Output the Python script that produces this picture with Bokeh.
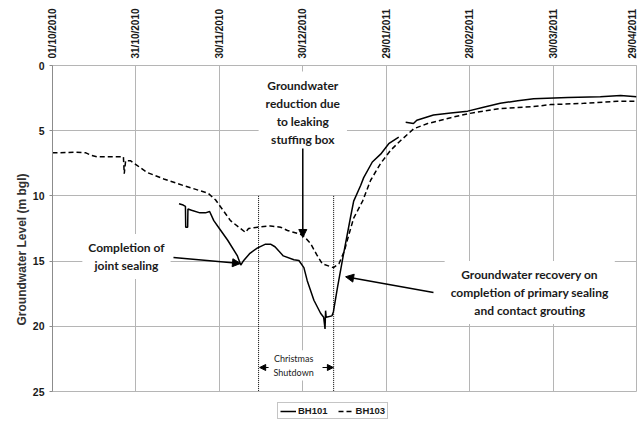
import numpy as np
from math import pi
from bokeh.plotting import figure
from bokeh.layouts import column
from bokeh.models import (Range1d, FixedTicker, DatetimeTickFormatter, Label, Arrow, Title,
                          NormalHead, Legend, LegendItem, ColumnDataSource)
from bokeh.embed import file_html
from bokeh.resources import INLINE
import pandas as pd

# ---------------- data ----------------
START = "2010-10-01"
TICK_DAYS = [0, 30, 60, 90, 120, 150, 180, 210]      # 01/10/2010 ... 29/04/2011
Y_TICKS = [0, 5, 10, 15, 20, 25]
SERIES = ["BH101", "BH103"]

# days after 01/10/2010 and groundwater level (m bgl)
bh101_day = [45.5, 47.0, 47.8, 47.9, 48.6, 48.7, 50.0, 53.0, 55.0, 56.5, 58.0, 60.0, 63.0,
             66.5, 67.7, 68.6, 71.0, 73.6, 76.6, 78.4, 80.0, 83.0, 86.8, 88.6, 90.4,
             91.6, 94.0, 96.4, 97.5, 98.0, 98.2, 98.4, 100.5, 101.0, 102.5, 104.7,
             107.2, 108.3, 110.8, 111.9, 115.0, 118.0, 120.9, 124.5,
             125.5,
             127.0, 129.8, 131.0, 137.0, 143.2, 149.3, 155.0, 161.0, 167.3, 170.9,
             173.0, 185.3, 197.0, 204.3, 210.0]
bh101_gwl = [10.6, 10.7, 10.8, 12.4, 12.4, 11.0, 11.1, 11.3, 11.3, 11.2, 11.9, 12.5, 13.4,
             14.6, 15.3, 15.0, 14.4, 14.0, 13.7, 13.7, 13.9, 14.6, 14.9, 14.95, 15.5,
             16.5, 18.0, 19.0, 19.3, 20.2, 18.8, 19.3, 19.2, 18.9, 17.0, 14.4,
             11.6, 10.4, 9.2, 8.6, 7.4, 6.8, 6.0, 5.5,
             np.nan,
             4.35, 4.45, 4.2, 3.8, 3.65, 3.5, 3.2, 2.9, 2.7, 2.6,
             2.55, 2.45, 2.4, 2.3, 2.4]

bh103_day = [0, 8, 12, 14, 16, 25.5, 25.8, 26.3, 28, 30, 34, 40, 47, 53, 56, 58.6, 61, 64,
             67, 69.4, 70.5, 73.7, 78.4, 82, 84.5, 90, 92.8, 95, 97, 101, 103, 105, 106,
             108.3, 111.5, 114.4, 118, 121.6, 125.2, 129.9, 134.9, 143.2, 149.3, 161,
             173, 179, 191, 203, 210]
bh103_gwl = [6.7, 6.65, 6.7, 6.9, 7.0, 7.0, 8.3, 7.3, 7.3, 7.6, 8.2, 8.7, 9.2, 9.6, 9.8,
             10.3, 11.0, 11.9, 12.4, 12.8, 12.5, 12.4, 12.3, 12.4, 12.65, 13.0, 13.65,
             14.5, 15.2, 15.5, 15.2, 14.2, 13.4, 11.7, 10.4, 8.8, 7.5, 6.5, 5.75, 4.85,
             4.45, 4.0, 3.7, 3.3, 3.15, 3.0, 2.9, 2.75, 2.75]

SHUTDOWN_DAYS = [74.1, 101.1]

# ---------------- helpers ----------------
DAY = 86400000.0
T0 = pd.Timestamp(START).timestamp() * 1000.0


def ms(d):
    return T0 + np.asarray(d, dtype=float) * DAY


TXT = "#1a1a1a"
GRID = "#b5b5b5"
DASH = "5 3"

p = figure(frame_width=584, frame_height=326, output_backend="svg", toolbar_location=None,
           x_axis_type="datetime", x_axis_location="above",
           x_range=Range1d(ms(0), ms(210)), y_range=Range1d(25, 0),
           min_border_left=52, min_border_right=1, min_border_top=65, min_border_bottom=8)
p.background_fill_color = "white"
p.border_fill_color = "white"
p.outline_line_color = GRID

xt = FixedTicker(ticks=[float(ms(d)) for d in TICK_DAYS])
fmt = "%d/%m/%Y"
p.xaxis.ticker = xt
p.xaxis.formatter = DatetimeTickFormatter(milliseconds=fmt, seconds=fmt, minsec=fmt, minutes=fmt,
                                          hourmin=fmt, hours=fmt, days=fmt, months=fmt, years=fmt)
p.xaxis.major_label_orientation = pi / 2
p.xaxis.major_label_standoff = 7
p.xaxis.major_tick_out = 0
p.xaxis.major_tick_in = 0
p.xaxis.minor_tick_out = 0
p.xaxis.minor_tick_in = 0
p.xaxis.axis_line_color = GRID
p.xaxis.major_label_text_font = "Liberation Sans"
p.xaxis.major_label_text_font_style = "bold"
p.xaxis.major_label_text_font_size = "10px"
p.xaxis.major_label_text_color = TXT

p.yaxis.ticker = FixedTicker(ticks=Y_TICKS)
p.yaxis.major_tick_out = 3
p.yaxis.major_tick_in = 0
p.yaxis.minor_tick_out = 0
p.yaxis.minor_tick_in = 0
p.yaxis.axis_line_color = "#8c8c8c"
p.yaxis.major_tick_line_color = "#8c8c8c"
p.yaxis.major_label_standoff = 5
p.yaxis.major_label_text_font = "Liberation Sans"
p.yaxis.major_label_text_font_style = "bold"
p.yaxis.major_label_text_font_size = "10.5px"
p.yaxis.major_label_text_color = TXT

p.xgrid.ticker = xt
p.ygrid.ticker = FixedTicker(ticks=Y_TICKS)
p.xgrid.grid_line_color = GRID
p.ygrid.grid_line_color = GRID

# y-axis title, as a side title so it can sit a little below the frame centre
p.add_layout(Title(text="Groundwater Level (m bgl)", align="left", offset=66,
                   text_font="Liberation Sans", text_font_style="bold",
                   text_font_size="12px", text_color="#333333", standoff=2), "left")

# ---------------- series ----------------
s1 = ColumnDataSource(dict(x=ms(bh101_day), y=bh101_gwl))
s2 = ColumnDataSource(dict(x=ms(bh103_day), y=bh103_gwl))
p.line("x", "y", source=s1, line_color="black", line_width=1.5)
p.line("x", "y", source=s2, line_color="black", line_width=1.5, line_dash=DASH)

# Christmas shutdown dotted lines
p.segment(x0=ms(SHUTDOWN_DAYS), y0=[10, 10], x1=ms(SHUTDOWN_DAYS), y1=[25, 25],
          line_color="black", line_width=1, line_dash="1 1")

# ---------------- annotations ----------------
AF = "Lato"


def note(d, v, text, size="12px", bold=True, pad=4):
    p.add_layout(Label(x=float(ms(d)), y=v, text=text, text_align="center",
                       text_baseline="middle", text_font=AF,
                       text_font_style="bold" if bold else "normal",
                       text_font_size=size, text_color=TXT, text_line_height=1.2,
                       background_fill_color="white", padding=pad))


def arrow(d0, v0, d1, v1, size=8, width=1.5):
    p.add_layout(Arrow(x_start=float(ms(d0)), y_start=v0, x_end=float(ms(d1)), y_end=v1,
                       line_color="black", line_width=width,
                       end=NormalHead(size=size, fill_color="black", line_color="black")))


note(90, 3.64, "Groundwater\nreduction due\nto leaking\nstuffing box", pad=7)
note(26.6, 14.65, "Completion of\njoint sealing", pad=6)
note(171.6, 17.4, "Groundwater recovery on\ncompletion of primary sealing\nand contact grouting", pad=6)
note(86.7, 23.0, "Christmas\nShutdown", size="9px", bold=False, pad=3)

arrow(90, 6.37, 90, 13.19)
arrow(43.5, 14.72, 67.6, 15.18)
arrow(137, 17.4, 105.4, 16.2)
arrow(77.7, 23.16, 74.5, 23.16, size=6, width=1.2)
arrow(97.1, 23.16, 101.0, 23.16, size=6, width=1.2)

# ---------------- legend (own strip below the chart) ----------------
pl = figure(width=637, height=22, output_backend="svg", toolbar_location=None,
            x_range=Range1d(0, 1), y_range=Range1d(0, 1),
            min_border=0, min_border_left=0, min_border_right=0,
            min_border_top=0, min_border_bottom=0)
pl.axis.visible = False
pl.grid.visible = False
pl.outline_line_color = None
pl.background_fill_color = "white"
pl.border_fill_color = "white"
k1 = pl.line([np.nan], [np.nan], line_color="black", line_width=1.5)
k2 = pl.line([np.nan], [np.nan], line_color="black", line_width=1.5, line_dash=DASH)
legend = Legend(items=[LegendItem(label=SERIES[0], renderers=[k1]),
                       LegendItem(label=SERIES[1], renderers=[k2])],
                orientation="horizontal", location=(225, 2),
                label_text_font="Liberation Sans", label_text_font_style="bold",
                label_text_font_size="9.5px", label_text_color=TXT,
                glyph_width=16, glyph_height=10, label_standoff=2, spacing=10,
                padding=2, margin=0, label_height=10,
                border_line_color="#8c8c8c", background_fill_color="white")
pl.add_layout(legend)

layout = column(p, pl, spacing=0)
open("out.html", "w").write(file_html(layout, INLINE))
